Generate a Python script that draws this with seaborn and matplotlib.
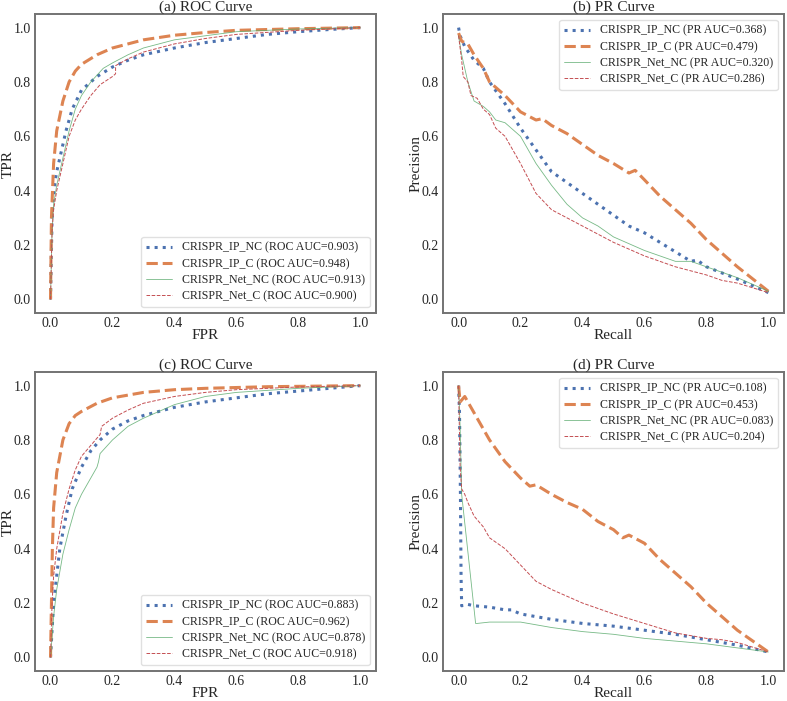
import matplotlib
matplotlib.use('Agg')
import matplotlib.pyplot as plt
import seaborn as sns

sns.set_style('white')
plt.rcParams['font.family'] = ['Liberation Serif', 'DejaVu Serif']
plt.rcParams['axes.edgecolor'] = '0.45'
plt.rcParams['axes.linewidth'] = 1.4

model_names = ['CRISPR_IP_NC', 'CRISPR_IP_C', 'CRISPR_Net_NC', 'CRISPR_Net_C']

# (a) ROC curve, first dataset
roc_a_auc = [0.903, 0.948, 0.913, 0.900]
roc_a_ip_nc_fpr = [0, 0.005, 0.01, 0.02, 0.03, 0.05, 0.07, 0.1, 0.15, 0.2, 0.25, 0.3, 0.4, 0.5, 0.6, 0.7, 0.8, 0.9, 1.0]
roc_a_ip_nc_tpr = [0, 0.3, 0.4, 0.47, 0.52, 0.62, 0.7, 0.77, 0.82, 0.855, 0.88, 0.9, 0.925, 0.945, 0.96, 0.975, 0.985, 0.993, 1.0]
roc_a_ip_c_fpr = [0, 0.003, 0.01, 0.02, 0.04, 0.06, 0.08, 0.1, 0.15, 0.2, 0.3, 0.4, 0.5, 0.6, 0.8, 1.0]
roc_a_ip_c_tpr = [0, 0.3, 0.5, 0.62, 0.73, 0.8, 0.84, 0.865, 0.9, 0.925, 0.955, 0.972, 0.982, 0.99, 0.996, 1.0]
roc_a_net_nc_fpr = [0, 0.005, 0.01, 0.02, 0.04, 0.06, 0.08, 0.1, 0.13, 0.17, 0.2, 0.25, 0.3, 0.4, 0.5, 0.6, 0.8, 1.0]
roc_a_net_nc_tpr = [0, 0.25, 0.35, 0.42, 0.52, 0.62, 0.7, 0.75, 0.8, 0.85, 0.87, 0.9, 0.925, 0.955, 0.97, 0.985, 0.995, 1.0]
roc_a_net_c_fpr = [0, 0.005, 0.01, 0.02, 0.04, 0.06, 0.08, 0.1, 0.13, 0.16, 0.2, 0.21, 0.21, 0.25, 0.3, 0.4, 0.5, 0.6, 0.8, 1.0]
roc_a_net_c_tpr = [0, 0.25, 0.33, 0.4, 0.5, 0.6, 0.66, 0.7, 0.75, 0.79, 0.82, 0.83, 0.86, 0.885, 0.91, 0.94, 0.96, 0.975, 0.99, 1.0]

# (b) PR curve, first dataset
pr_b_auc = [0.368, 0.479, 0.320, 0.286]
pr_b_ip_nc_rec = [0, 0.005, 0.02, 0.05, 0.08, 0.1, 0.15, 0.2, 0.25, 0.3, 0.35, 0.4, 0.45, 0.5, 0.55, 0.6, 0.65, 0.7, 0.75, 0.77, 0.8, 0.9, 1.0]
pr_b_ip_nc_pre = [1.0, 0.97, 0.93, 0.88, 0.85, 0.8, 0.72, 0.63, 0.55, 0.47, 0.43, 0.39, 0.35, 0.31, 0.27, 0.245, 0.21, 0.175, 0.14, 0.145, 0.12, 0.075, 0.025]
pr_b_ip_c_rec = [0, 0.01, 0.03, 0.05, 0.08, 0.1, 0.15, 0.2, 0.25, 0.27, 0.3, 0.35, 0.4, 0.45, 0.5, 0.55, 0.57, 0.6, 0.65, 0.7, 0.75, 0.8, 0.85, 0.9, 0.95, 1.0]
pr_b_ip_c_pre = [0.98, 0.95, 0.94, 0.9, 0.85, 0.8, 0.75, 0.69, 0.66, 0.665, 0.64, 0.61, 0.57, 0.53, 0.5, 0.465, 0.475, 0.44, 0.38, 0.33, 0.28, 0.22, 0.17, 0.12, 0.075, 0.03]
pr_b_net_nc_rec = [0, 0.01, 0.03, 0.05, 0.08, 0.1, 0.12, 0.15, 0.2, 0.25, 0.3, 0.35, 0.4, 0.45, 0.5, 0.6, 0.7, 0.75, 0.8, 0.9, 1.0]
pr_b_net_nc_pre = [0.97, 0.9, 0.8, 0.73, 0.71, 0.69, 0.66, 0.65, 0.6, 0.5, 0.42, 0.35, 0.3, 0.27, 0.23, 0.18, 0.14, 0.14, 0.12, 0.08, 0.03]
pr_b_net_c_rec = [0, 0.01, 0.015, 0.03, 0.04, 0.06, 0.08, 0.1, 0.12, 0.15, 0.2, 0.25, 0.3, 0.35, 0.4, 0.5, 0.6, 0.7, 0.8, 0.85, 0.9, 1.0]
pr_b_net_c_pre = [0.97, 0.88, 0.82, 0.8, 0.75, 0.74, 0.7, 0.68, 0.63, 0.6, 0.5, 0.39, 0.33, 0.3, 0.27, 0.21, 0.16, 0.12, 0.09, 0.07, 0.06, 0.025]

# (c) ROC curve, second dataset
roc_c_auc = [0.883, 0.962, 0.878, 0.918]
roc_c_ip_nc_fpr = [0, 0.005, 0.01, 0.02, 0.03, 0.05, 0.07, 0.1, 0.13, 0.16, 0.2, 0.25, 0.3, 0.4, 0.5, 0.6, 0.7, 0.8, 0.9, 1.0]
roc_c_ip_nc_tpr = [0, 0.1, 0.2, 0.3, 0.4, 0.52, 0.62, 0.7, 0.76, 0.8, 0.84, 0.87, 0.89, 0.92, 0.94, 0.955, 0.97, 0.98, 0.99, 1.0]
roc_c_ip_c_fpr = [0, 0.003, 0.006, 0.01, 0.02, 0.04, 0.06, 0.08, 0.1, 0.15, 0.2, 0.3, 0.4, 0.5, 0.7, 1.0]
roc_c_ip_c_tpr = [0, 0.2, 0.4, 0.55, 0.68, 0.8, 0.86, 0.89, 0.905, 0.935, 0.955, 0.975, 0.985, 0.99, 0.996, 1.0]
roc_c_net_nc_fpr = [0, 0.01, 0.02, 0.04, 0.06, 0.08, 0.1, 0.13, 0.15, 0.155, 0.16, 0.2, 0.25, 0.3, 0.4, 0.5, 0.6, 0.8, 1.0]
roc_c_net_nc_tpr = [0, 0.15, 0.25, 0.38, 0.47, 0.55, 0.6, 0.66, 0.7, 0.72, 0.75, 0.8, 0.85, 0.88, 0.93, 0.96, 0.975, 0.99, 1.0]
roc_c_net_c_fpr = [0, 0.005, 0.01, 0.02, 0.04, 0.06, 0.08, 0.1, 0.13, 0.16, 0.165, 0.2, 0.25, 0.3, 0.4, 0.5, 0.6, 0.8, 1.0]
roc_c_net_c_tpr = [0, 0.2, 0.3, 0.4, 0.53, 0.62, 0.69, 0.74, 0.78, 0.82, 0.85, 0.88, 0.91, 0.935, 0.96, 0.975, 0.985, 0.995, 1.0]

# (d) PR curve, second dataset
pr_d_auc = [0.108, 0.453, 0.083, 0.204]
pr_d_ip_nc_rec = [0, 0.003, 0.006, 0.008, 0.01, 0.03, 0.05, 0.1, 0.15, 0.17, 0.2, 0.3, 0.4, 0.5, 0.6, 0.7, 0.8, 0.9, 1.0]
pr_d_ip_nc_pre = [1.0, 0.9, 0.6, 0.3, 0.19, 0.195, 0.19, 0.185, 0.175, 0.175, 0.16, 0.14, 0.125, 0.115, 0.1, 0.085, 0.065, 0.045, 0.02]
pr_d_ip_c_rec = [0, 0.005, 0.02, 0.03, 0.05, 0.08, 0.1, 0.15, 0.2, 0.23, 0.25, 0.3, 0.35, 0.4, 0.45, 0.5, 0.53, 0.55, 0.6, 0.65, 0.7, 0.75, 0.8, 0.85, 0.9, 0.95, 1.0]
pr_d_ip_c_pre = [1.0, 0.94, 0.96, 0.94, 0.9, 0.84, 0.8, 0.72, 0.66, 0.63, 0.635, 0.6, 0.57, 0.545, 0.5, 0.47, 0.44, 0.45, 0.42, 0.36, 0.31, 0.26, 0.2, 0.15, 0.1, 0.06, 0.02]
pr_d_net_nc_rec = [0, 0.005, 0.01, 0.055, 0.06, 0.1, 0.15, 0.2, 0.3, 0.4, 0.5, 0.6, 0.7, 0.8, 0.9, 1.0]
pr_d_net_nc_pre = [1.0, 0.85, 0.6, 0.125, 0.125, 0.13, 0.13, 0.13, 0.11, 0.095, 0.085, 0.07, 0.06, 0.05, 0.035, 0.02]
pr_d_net_c_rec = [0, 0.005, 0.01, 0.02, 0.03, 0.05, 0.08, 0.1, 0.15, 0.2, 0.25, 0.3, 0.4, 0.5, 0.6, 0.7, 0.8, 0.85, 0.9, 1.0]
pr_d_net_c_pre = [1.0, 0.7, 0.62, 0.6, 0.57, 0.52, 0.48, 0.44, 0.4, 0.34, 0.28, 0.25, 0.2, 0.16, 0.125, 0.09, 0.07, 0.065, 0.055, 0.02]

palette = sns.color_palette('deep')
styles = [
    dict(color=palette[0], linestyle=':', linewidth=2.2),
    dict(color=palette[1], linestyle='--', linewidth=2.2),
    dict(color=palette[2], linestyle='-', linewidth=0.6, alpha=0.8),
    dict(color=palette[3], linestyle='--', linewidth=0.7, dashes=(3, 1.5)),
]


def plot_panel(ax, curves, aucs, kind, title, xlabel, ylabel, loc):
  for i, (xs, ys) in enumerate(curves):
    label = model_names[i] + ' (' + kind + ' AUC=' + format(aucs[i], '.3f') + ')'
    sns.lineplot(x=xs, y=ys, ax=ax, sort=False, estimator=None, label=label, **styles[i])
  ax.set_title(title, fontsize=11, pad=2)
  ax.set_xlabel(xlabel, fontsize=11)
  ax.set_ylabel(ylabel, fontsize=11)
  ax.xaxis.set_label_coords(0.5, -0.052)
  ax.yaxis.set_label_coords(-0.06, 0.5)
  ax.set_xlim(-0.05, 1.05)
  ax.set_ylim(-0.05, 1.05)
  ax.set_xticks([0, 0.2, 0.4, 0.6, 0.8, 1.0])
  ax.set_yticks([0, 0.2, 0.4, 0.6, 0.8, 1.0])
  ax.tick_params(labelsize=10, length=0, pad=3)
  leg = ax.legend(loc=loc, fontsize=8.6, frameon=True, handlelength=2.2, labelspacing=0.35)
  leg.get_frame().set_edgecolor('0.85')


fig = plt.figure(figsize=(7.87, 7.01), dpi=100)
ax_a = fig.add_axes([0.0445, 0.5535, 0.433, 0.4265])
ax_b = fig.add_axes([0.563, 0.5535, 0.433, 0.4265])
ax_c = fig.add_axes([0.0445, 0.0428, 0.433, 0.4265])
ax_d = fig.add_axes([0.563, 0.0428, 0.433, 0.4265])

plot_panel(ax_a, [(roc_a_ip_nc_fpr, roc_a_ip_nc_tpr), (roc_a_ip_c_fpr, roc_a_ip_c_tpr),
                  (roc_a_net_nc_fpr, roc_a_net_nc_tpr), (roc_a_net_c_fpr, roc_a_net_c_tpr)],
           roc_a_auc, 'ROC', '(a) ROC Curve', 'FPR', 'TPR', 'lower right')
plot_panel(ax_b, [(pr_b_ip_nc_rec, pr_b_ip_nc_pre), (pr_b_ip_c_rec, pr_b_ip_c_pre),
                  (pr_b_net_nc_rec, pr_b_net_nc_pre), (pr_b_net_c_rec, pr_b_net_c_pre)],
           pr_b_auc, 'PR', '(b) PR Curve', 'Recall', 'Precision', 'upper right')
plot_panel(ax_c, [(roc_c_ip_nc_fpr, roc_c_ip_nc_tpr), (roc_c_ip_c_fpr, roc_c_ip_c_tpr),
                  (roc_c_net_nc_fpr, roc_c_net_nc_tpr), (roc_c_net_c_fpr, roc_c_net_c_tpr)],
           roc_c_auc, 'ROC', '(c) ROC Curve', 'FPR', 'TPR', 'lower right')
plot_panel(ax_d, [(pr_d_ip_nc_rec, pr_d_ip_nc_pre), (pr_d_ip_c_rec, pr_d_ip_c_pre),
                  (pr_d_net_nc_rec, pr_d_net_nc_pre), (pr_d_net_c_rec, pr_d_net_c_pre)],
           pr_d_auc, 'PR', '(d) PR Curve', 'Recall', 'Precision', 'upper right')

fig.savefig('out.png', dpi=100)
plt.close()
